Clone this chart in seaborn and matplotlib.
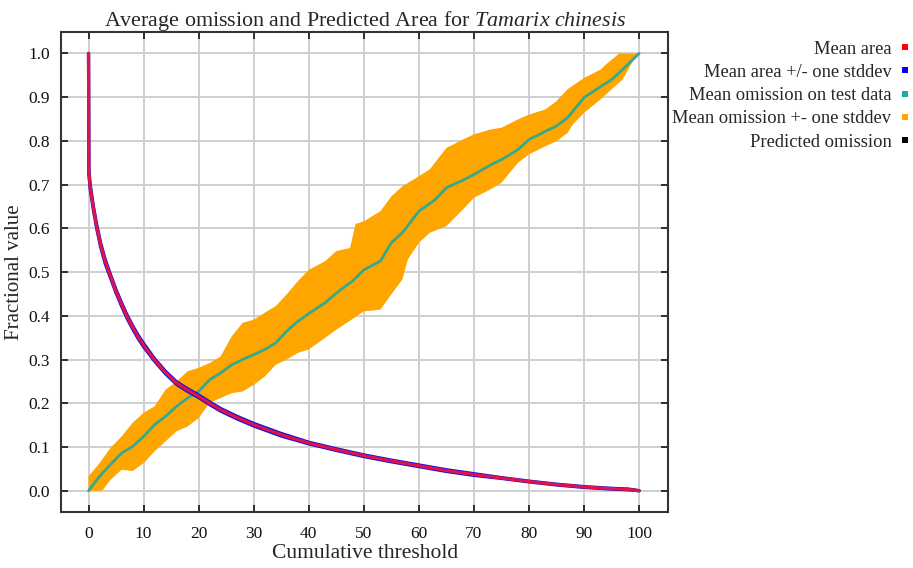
import numpy as np
import pandas as pd
import matplotlib
matplotlib.use("Agg")
import matplotlib.pyplot as plt
from matplotlib.lines import Line2D
import seaborn as sns

# ---------------- data ----------------
area_t = [0, 0.05, 0.3, 0.9, 1.5, 2.2, 3.0, 4.0, 5.0, 6.0, 7.0, 8.0, 9.0, 10, 12, 14,
          16, 18, 20, 22, 24, 27, 30, 35, 40, 45, 50, 55, 60, 65, 70, 75, 80, 85, 90,
          93, 95, 98, 100]
area_mean = [1.0, 0.73, 0.695, 0.645, 0.603, 0.562, 0.525, 0.49, 0.456, 0.426, 0.398,
             0.374, 0.352, 0.333, 0.299, 0.270, 0.246, 0.230, 0.216, 0.200, 0.185,
             0.167, 0.151, 0.128, 0.109, 0.094, 0.080, 0.068, 0.057, 0.046, 0.037,
             0.029, 0.021, 0.014, 0.0085, 0.006, 0.0046, 0.003, 0.0]
area_sd = [0.0, 0.006, 0.006, 0.005, 0.005, 0.005, 0.005, 0.004, 0.004, 0.004, 0.004,
           0.004, 0.004, 0.004, 0.003, 0.003, 0.003, 0.003, 0.003, 0.003, 0.003,
           0.003, 0.003, 0.003, 0.002, 0.002, 0.002, 0.002, 0.002, 0.002, 0.002,
           0.001, 0.001, 0.001, 0.001, 0.001, 0.001, 0.001, 0.0]

om_t = [0, 2, 4, 6, 8, 10, 12, 14, 16, 18, 20, 22, 24, 26, 28, 30, 32, 34, 36, 38, 40,
        43, 45, 48, 50, 53, 55, 57, 60, 63, 65, 68, 70, 73, 75, 78, 80, 83, 85, 87, 90,
        93, 95, 97, 100]
om_mean = [0.0, 0.033, 0.06, 0.086, 0.101, 0.124, 0.151, 0.17, 0.193, 0.212, 0.227,
           0.254, 0.269, 0.288, 0.30, 0.311, 0.323, 0.338, 0.365, 0.387, 0.405,
           0.43, 0.452, 0.48, 0.505, 0.525, 0.567, 0.59, 0.639, 0.666, 0.693, 0.71,
           0.723, 0.745, 0.757, 0.78, 0.803, 0.822, 0.834, 0.853, 0.899, 0.924, 0.94,
           0.963, 1.0]

up_t = [0, 2, 4, 6, 8, 10, 12, 14, 16, 18, 20, 22, 24, 26, 28, 30, 32, 34, 36, 38, 40,
        43, 45, 47.5, 48.5, 50, 53, 55, 57, 60, 62, 65, 68, 70, 73, 75, 78, 80, 83, 85,
        87, 90, 93, 94, 96.4, 100]
om_upper = [0.033, 0.063, 0.098, 0.124, 0.155, 0.178, 0.193, 0.231, 0.25, 0.273, 0.281,
            0.292, 0.307, 0.353, 0.384, 0.391, 0.407, 0.422, 0.449, 0.479, 0.505,
            0.525, 0.548, 0.555, 0.61, 0.616, 0.639, 0.673, 0.696, 0.719, 0.735, 0.784,
            0.803, 0.815, 0.826, 0.83, 0.849, 0.86, 0.872, 0.891, 0.918, 0.944, 0.963,
            0.975, 1.0, 1.0]

lo_t = [0, 2.5, 4, 6, 8, 10, 12, 14, 16, 18, 20, 22, 24, 26, 28, 30, 32, 34, 36, 38, 40,
        45, 50, 53, 55, 57, 58, 60, 62, 65, 68, 70, 73, 75, 78, 80, 83, 85, 87, 88, 90,
        93, 95, 97, 99, 100]
om_lower = [0.0, 0.0, 0.025, 0.048, 0.045, 0.063, 0.09, 0.113, 0.136, 0.147, 0.166,
            0.201, 0.212, 0.223, 0.227, 0.242, 0.261, 0.288, 0.30, 0.315, 0.323,
            0.368, 0.41, 0.414, 0.449, 0.483, 0.529, 0.567, 0.59, 0.605, 0.643, 0.67,
            0.689, 0.704, 0.75, 0.769, 0.788, 0.799, 0.818, 0.838, 0.864, 0.895, 0.918,
            0.94, 0.986, 1.0]

x_ticks = list(range(0, 101, 10))
y_ticks = [round(v * 0.1, 1) for v in range(11)]
legend_labels = ["Mean area", "Mean area +/- one stddev", "Mean omission on test data",
                 "Mean omission +- one stddev", "Predicted omission"]
legend_colors = ["#ff0000", "#0000ff", "#1fa9a6", "#ffa500", "#000000"]

# ---------------- style ----------------
sns.set_theme(style="ticks")
plt.rcParams["font.family"] = ["Liberation Serif", "DejaVu Serif"]
plt.rcParams["mathtext.fontset"] = "custom"
plt.rcParams["mathtext.it"] = "Liberation Serif:italic"
plt.rcParams["mathtext.rm"] = "Liberation Serif"

fig = plt.figure(figsize=(9.13, 5.68), dpi=100)
ax = fig.add_axes([61 / 913, 1 - 511.7 / 568, (668.3 - 61) / 913, (511.7 - 32) / 568])

area_df = pd.DataFrame({"t": area_t, "mean": area_mean, "sd": area_sd})
area_df["hi"] = area_df["mean"] + area_df["sd"]
area_df["lo"] = area_df["mean"] - area_df["sd"]
om_df = pd.DataFrame({"t": om_t, "mean": om_mean})

# orange band: polygon from upper edge and reversed lower edge
band_x = np.concatenate([np.array(up_t), np.array(lo_t)[::-1]])
band_y = np.concatenate([np.array(om_upper), np.array(om_lower)[::-1]])
ax.fill(band_x, band_y, color="#ffa500", lw=0, zorder=2)

sns.lineplot(data=om_df, x="t", y="mean", color="#36a88c", lw=2.0, ax=ax,
             estimator=None, sort=False, zorder=3)
sns.lineplot(data=area_df, x="t", y="hi", color="#1010e0", lw=2.3, ax=ax,
             estimator=None, sort=False, zorder=4)
sns.lineplot(data=area_df, x="t", y="lo", color="#1010e0", lw=2.3, ax=ax,
             estimator=None, sort=False, zorder=4)
sns.lineplot(data=area_df, x="t", y="mean", color="#e0124a", lw=2.3, ax=ax,
             estimator=None, sort=False, zorder=5)

ax.set_xlim(-5, 105.3)
ax.set_ylim(-0.048, 1.049)
ax.set_xticks(x_ticks)
ax.set_xticklabels([str(v) for v in x_ticks], fontsize=12.5)
ax.set_yticks(y_ticks)
ax.set_yticklabels([f"{v:.1f}" for v in y_ticks], fontsize=12.5)
ax.grid(True, color="#cfcfcf", lw=1.4, zorder=0)
ax.set_axisbelow(True)
ax.tick_params(direction="in", length=5, width=1.3, top=True, right=True,
               colors="#222222", labelcolor="#111111")
ax.tick_params(axis="x", pad=10)
ax.tick_params(axis="y", pad=8)
for s in ax.spines.values():
    s.set_color("#333333")
    s.set_linewidth(1.5)

ax.set_xlabel("Cumulative threshold", fontsize=15.5, labelpad=2)
ax.set_ylabel("Fractional value", fontsize=15, labelpad=3)
ax.set_title(r"Average omission and Predicted Area for $\it{Tamarix\ chinesis}$",
             fontsize=15.8, pad=4)

handles = [Line2D([], [], ls="none", marker="s", markersize=4.5, color=c,
                  markeredgewidth=0) for c in legend_colors]
fig.legend(handles, legend_labels, loc="upper right", bbox_to_anchor=(1.0077, 0.9447),
           frameon=False, markerfirst=False, fontsize=13.3, handlelength=0.6,
           handletextpad=0.45, labelspacing=0.34, borderpad=0.2, borderaxespad=0.3)

fig.savefig("out.png", dpi=100)
